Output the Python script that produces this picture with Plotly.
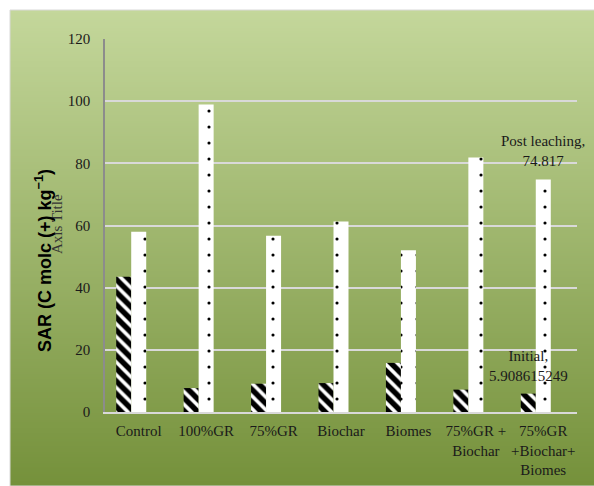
import base64
import struct
import zlib

import plotly.graph_objects as go

# Treatments and SAR values (initial vs. post leaching)
categories = ["Control", "100%GR", "75%GR", "Biochar", "Biomes",
              "75%GR +<br>Biochar", "75%GR<br>+Biochar+<br>Biomes"]
initial = [43.5, 7.7, 9.1, 9.3, 15.8, 7.2, 5.908615249]
post_leaching = [58.0, 98.9, 56.7, 61.3, 52.0, 81.9, 74.817]
y_ticks = [0, 20, 40, 60, 80, 100, 120]

# Figure geometry (pixels)
W, H = 594, 486
L, R, T, B = 105, 17, 39, 74
PW, PH = W - L - R, H - T - B


def px_to_paper(px, py):
    return (px - L) / PW, (H - B - py) / PH


def gradient_png(top, bottom, n=256):
    """Build a 1 x n vertical gradient PNG as a data URI."""
    raw = b""
    for i in range(n):
        f = i / (n - 1)
        c = bytes(int(round(a + (b - a) * f)) for a, b in zip(top, bottom))
        raw += b"\x00" + c

    def chunk(tag, data):
        return (struct.pack(">I", len(data)) + tag + data
                + struct.pack(">I", zlib.crc32(tag + data) & 0xFFFFFFFF))

    png = (b"\x89PNG\r\n\x1a\n"
           + chunk(b"IHDR", struct.pack(">IIBBBBB", 1, n, 8, 2, 0, 0, 0))
           + chunk(b"IDAT", zlib.compress(raw, 9))
           + chunk(b"IEND", b""))
    return "data:image/png;base64," + base64.b64encode(png).decode()


serif = "Liberation Serif, Times New Roman, serif"
text_color = "#1a1a1a"

bar_w = 0.2225          # one of three slots per category
fig = go.Figure()
fig.add_trace(go.Bar(
    name="Initial", x=categories, y=initial,
    width=bar_w, offset=-1.5 * bar_w,
    marker=dict(color="white", line=dict(width=0),
                pattern=dict(shape="\\", fgcolor="black", bgcolor="white",
                             fgopacity=1, size=9, solidity=0.6)),
))
fig.add_trace(go.Bar(
    name="Post leaching", x=categories, y=post_leaching,
    width=bar_w, offset=-0.5 * bar_w,
    marker=dict(color="white", line=dict(width=0),
                pattern=dict(shape=".", fgcolor="black", bgcolor="white",
                             fgopacity=1, size=16, solidity=0.03)),
))

# Background gradient panel with a thin border
x0, y0 = px_to_paper(10, 10)
x1, y1 = px_to_paper(W, H)
fig.add_layout_image(dict(
    source=gradient_png((196, 215, 155), (117, 145, 59)),
    xref="paper", yref="paper", x=x0, y=y0,
    sizex=x1 - x0, sizey=y0 - y1,
    xanchor="left", yanchor="top", sizing="stretch", layer="below",
))
fig.add_shape(type="rect", xref="paper", yref="paper",
              x0=x0, y0=y1, x1=x1 + 0.05, y1=y0,
              line=dict(color="#d9d9d9", width=1), fillcolor="rgba(0,0,0,0)",
              layer="below")

# Data labels on the last group
last = len(categories) - 1
fig.add_annotation(x=categories[last], y=post_leaching[last],
                   text=f"Post leaching,<br>{post_leaching[last]}",
                   showarrow=False, yanchor="bottom", yshift=8,
                   font=dict(family=serif, size=15, color=text_color))
fig.add_annotation(x=categories[last], y=initial[last],
                   xshift=-bar_w * PW / 7,
                   text=f"Initial,<br>{initial[last]}",
                   showarrow=False, yanchor="bottom", yshift=8,
                   font=dict(family=serif, size=15, color=text_color))

# Axis titles
ax, ay = px_to_paper(57, 224)
fig.add_annotation(xref="paper", yref="paper", x=ax, y=ay,
                   text="Axis Title", textangle=-90, showarrow=False,
                   xanchor="center", yanchor="middle",
                   font=dict(family=serif, size=15, color="#333333"))
sx, sy = px_to_paper(43, 260)
fig.add_annotation(xref="paper", yref="paper", x=sx, y=sy,
                   text="<b>SAR (C molc (+) kg<sup>−1</sup>)</b>",
                   textangle=-90, showarrow=False,
                   xanchor="center", yanchor="middle",
                   font=dict(family="Liberation Sans, Arial, sans-serif",
                             size=18, color="black"))

fig.update_layout(
    width=W, height=H,
    margin=dict(l=L, r=R, t=T, b=B, pad=0, autoexpand=False),
    paper_bgcolor="white", plot_bgcolor="rgba(0,0,0,0)",
    showlegend=False, barmode="overlay",
    font=dict(family=serif, size=15, color=text_color),
)
fig.update_xaxes(
    type="category", range=[-0.5, len(categories) - 0.5], automargin=False,
    showline=True, linecolor="#d9d9d9", linewidth=2,
    showgrid=False, ticks="outside", ticklen=4, tickcolor="rgba(0,0,0,0)",
    tickfont=dict(family=serif, size=15, color=text_color),
)
fig.update_yaxes(
    range=[0, 120], tickvals=y_ticks, automargin=False,
    showline=True, linecolor="#8c8c8c", linewidth=1.5,
    showgrid=True, gridcolor="#d9d9d9", gridwidth=2, zeroline=False,
    ticks="outside", ticklen=10, tickcolor="rgba(0,0,0,0)",
    tickfont=dict(family=serif, size=15, color=text_color),
)

fig.write_html("out.html")
